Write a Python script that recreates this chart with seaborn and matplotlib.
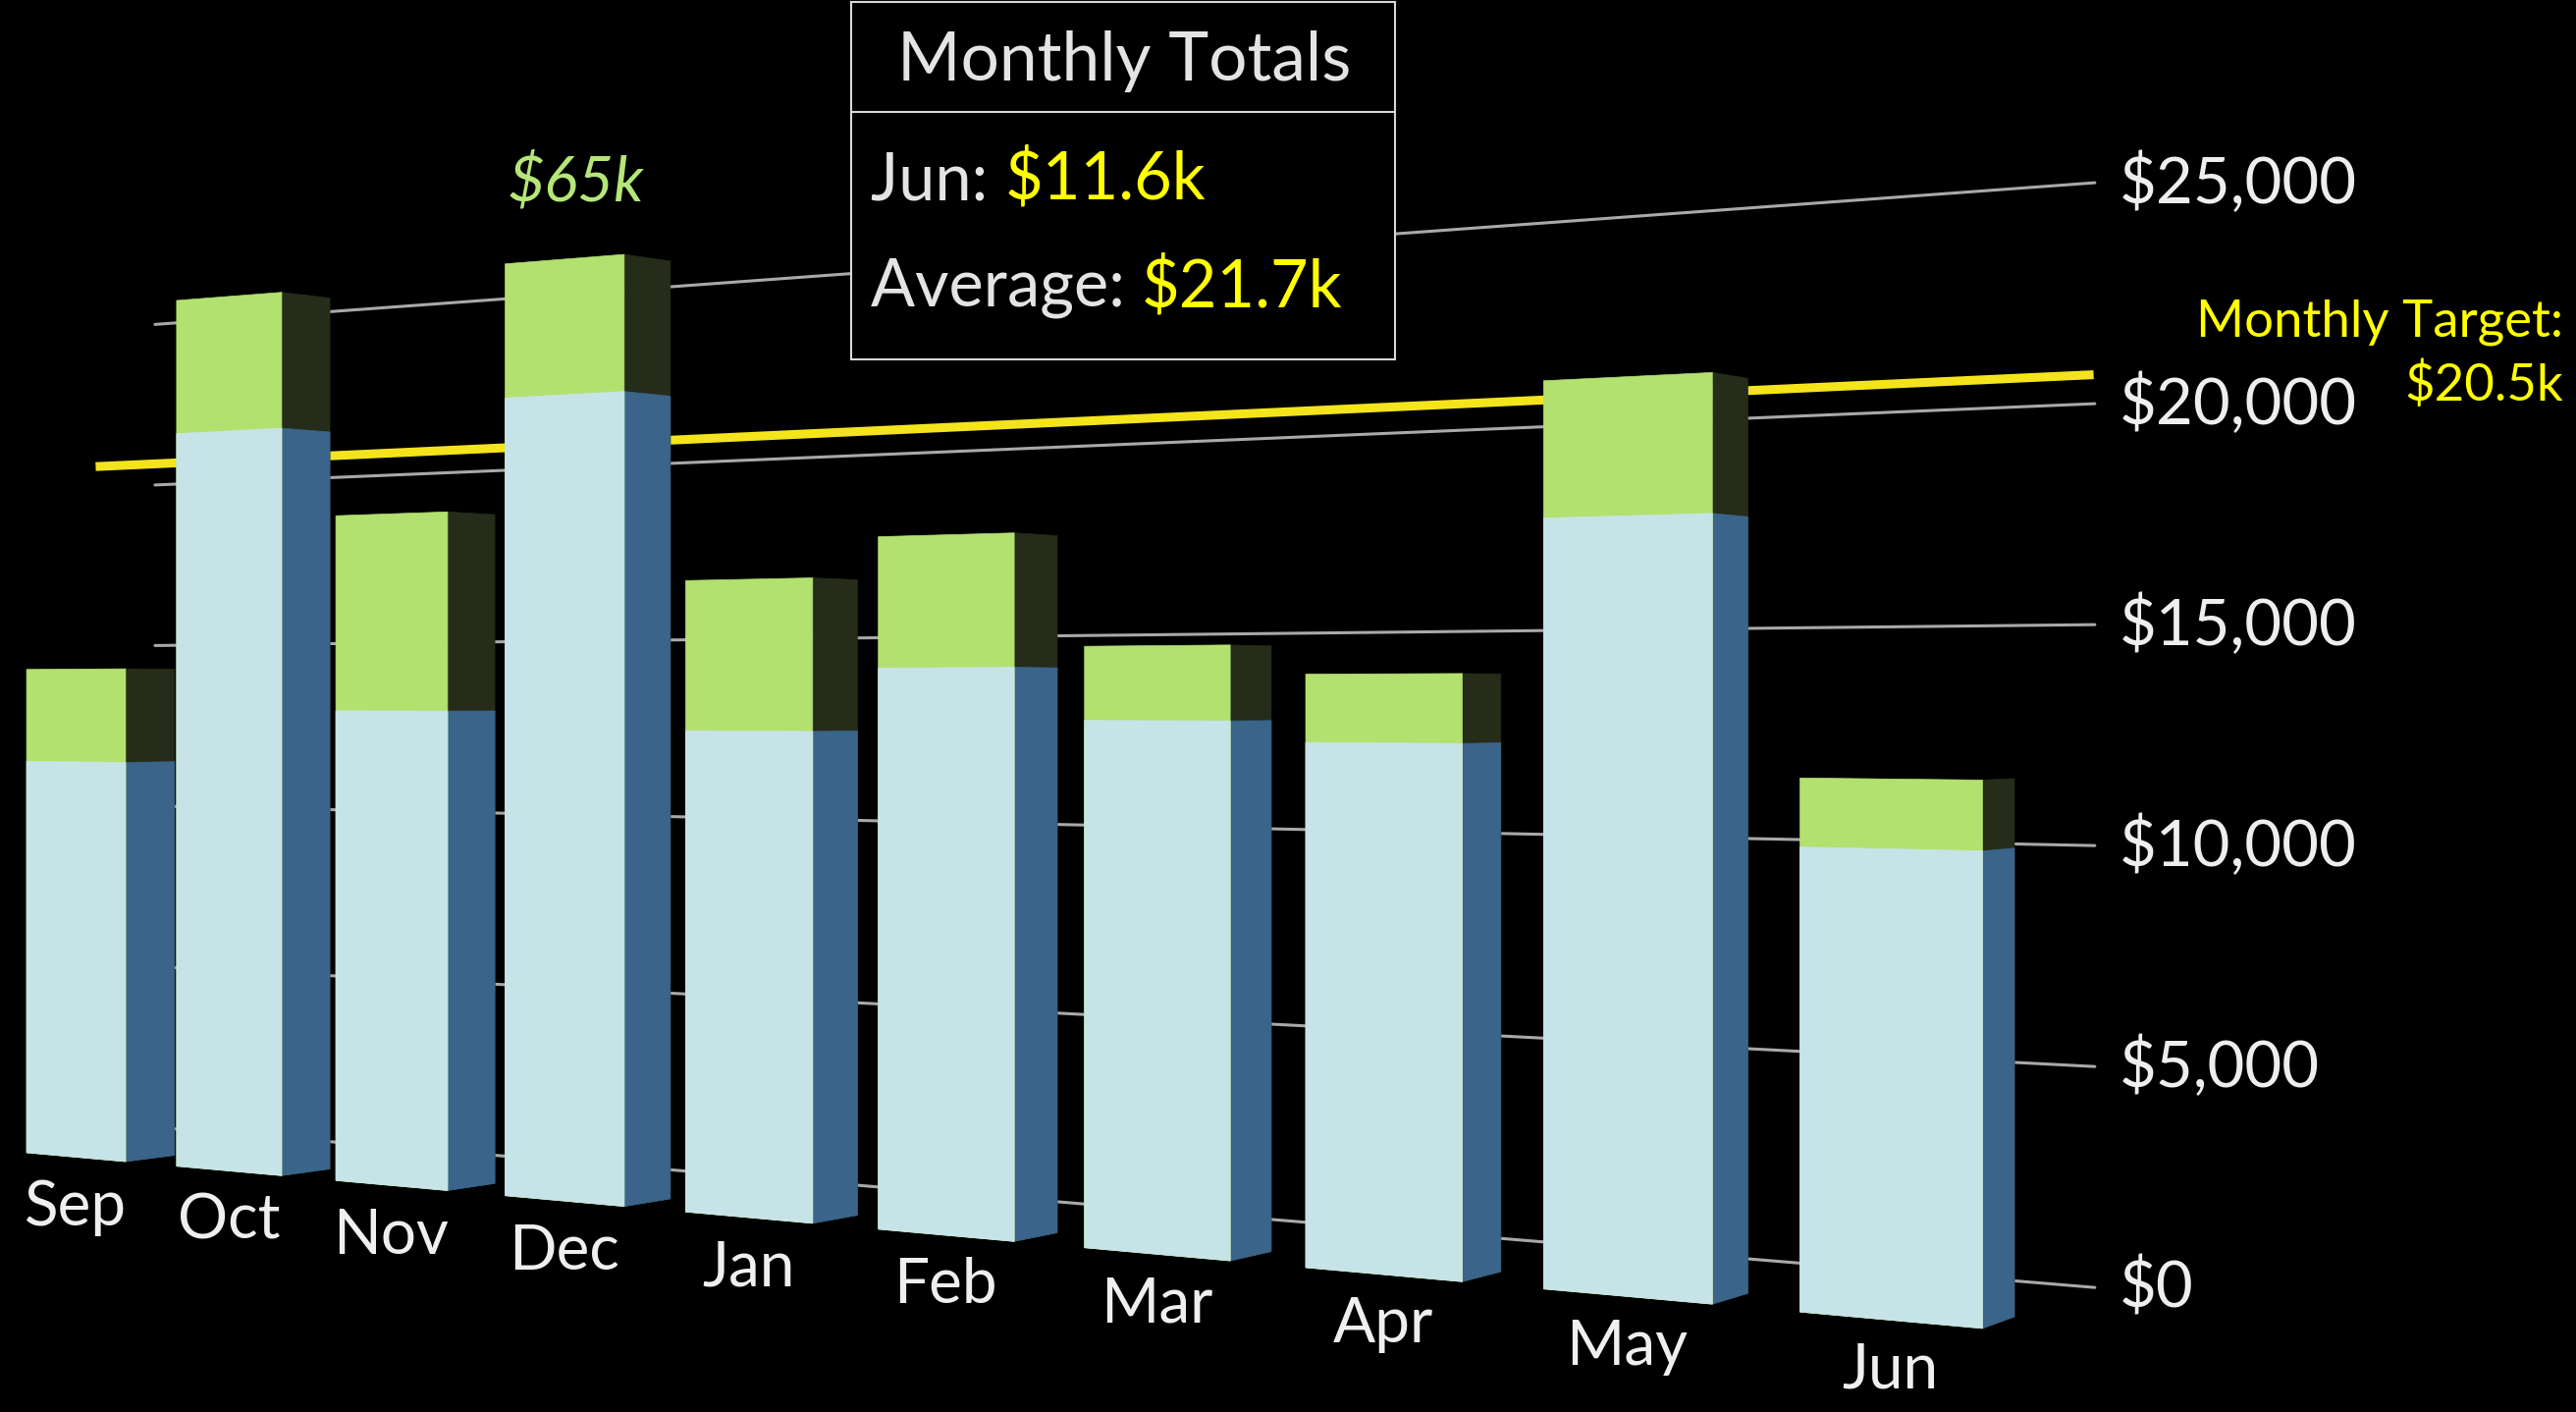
import numpy as np
import pandas as pd
import seaborn as sns
import matplotlib.pyplot as plt
from matplotlib import rcParams
from matplotlib.patches import Rectangle
from matplotlib.transforms import Transform

months = ['Sep', 'Oct', 'Nov', 'Dec', 'Jan', 'Feb', 'Mar', 'Apr', 'May', 'Jun']
base_sales = [11500, 20900, 13000, 21400, 12500, 14100, 12800, 12300, 17400, 10100]
extra_sales = [2700, 3800, 5400, 3600, 3900, 3300, 1800, 1600, 3100, 1500]
y_ticks = [0, 5000, 10000, 15000, 20000, 25000]
target = 20500
average_shown = 21700
dec_note = '$65k'

# perspective camera, matched by eye to the original 3D render (pixels, $k)
VX, HY = -5095, 714          # vanishing point x / horizon y
EYE_U, EYE_K = 14.25, 13.27  # camera position along the row / camera height in $k
B, K, C = 5.656e-6, 1.1275e-4, 0.006767
BAR_W = 2 / 3
BACK = 0.977                 # plane factor of the bars' back faces


def project(u, k, plane):
    q = B * plane * (EYE_U - u) + K
    return np.column_stack([VX + 1 / q, HY + (EYE_K - k) * C * plane / q])


class Perspective(Transform):
    """(bar position, $) -> pixel, for a plane parallel to the bar fronts."""
    input_dims = output_dims = 2

    def __init__(self, plane=1.0):
        super().__init__()
        self.plane = plane

    def transform_non_affine(self, values):
        values = np.asarray(values, dtype=float).reshape(-1, 2)
        return project(values[:, 0], values[:, 1] / 1000, self.plane)


class SideFace(Transform):
    """Folds each bar's width onto its right-hand side face (front edge -> back edge)."""
    input_dims = output_dims = 2

    def transform_non_affine(self, values):
        values = np.asarray(values, dtype=float).reshape(-1, 2)
        u = values[:, 0]
        i = np.round(u)
        frac = (u - i) / BAR_W + 0.5
        plane = 1 / (1 + frac * (1 / BACK - 1))
        return project(i + BAR_W / 2, values[:, 1] / 1000, plane)


sns.set_theme(style='white')
rcParams['font.family'] = ['Lato', 'DejaVu Sans']

df = pd.DataFrame({'month': months, 'base': base_sales})
df['total'] = df['base'] + np.array(extra_sales)

W, H = 2624, 1438
fig = plt.figure(figsize=(W / 100, H / 100), dpi=100, facecolor='black')
ax = fig.add_axes([0, 0, 1, 1])
ax.set_facecolor('black')

front = Perspective(1.0) + ax.transData
side = SideFace() + ax.transData
wall = Perspective(0.92) + ax.transData
target_plane = Perspective(0.94) + ax.transData


def bar_layer(col, color, trans, z):
    n = len(ax.patches)
    sns.barplot(data=df, x='month', y=col, color=color, width=BAR_W, saturation=1,
                errorbar=None, ax=ax, zorder=z)
    for p in ax.patches[n:]:
        p.set_transform(trans)
        p.set_edgecolor(color)
        p.set_linewidth(0.5)


# side faces, then the fronts
bar_layer('total', '#252c1a', side, 3)
bar_layer('base', '#3a6489', side, 3.1)
bar_layer('total', '#b3e170', front, 4)
bar_layer('base', '#c6e4e8', front, 4.1)

# gridlines on the back wall + value labels
u0, u1 = -2 / 3, len(months) - 2 / 3
for t in y_ticks:
    ax.plot([u0, u1], [t, t], transform=wall, color='#a9a9a9', lw=2.2, zorder=1)
    ax.annotate(f'${t:,}', xy=(u1, t), xycoords=wall, xytext=(18, 0),
                textcoords='offset points', ha='left', va='center',
                color='#eeeeee', fontsize=47)

# monthly target
ax.plot([u0 - 0.1, u1 + 0.1], [target, target], transform=target_plane,
        color='#f4e41c', lw=6.5, solid_capstyle='butt', zorder=2)
ax.text(2611, 328, 'Monthly Target:', ha='right', va='center', color='#ffff00', fontsize=38)
ax.text(2611, 392, f'${target / 1000:.1f}k', ha='right', va='center', color='#ffff00', fontsize=38)

# month labels under the bars
for i, m in enumerate(months):
    ax.annotate(m, xy=(i, 0), xycoords=front, xytext=(0, -37), textcoords='offset points',
                ha='center', va='center', color='#efefef', fontsize=46)

ax.annotate(dec_note, xy=(3, df['total'][3]), xycoords=front, xytext=(9, 57),
            textcoords='offset points', ha='center', va='center',
            color='#b5e678', fontsize=46, style='italic')

# summary box
ax.add_patch(Rectangle((867, 2), 554, 364, facecolor='black', edgecolor='#d8d8d8', lw=1.5, zorder=6))
ax.plot([867, 1421], [114, 114], color='#d8d8d8', lw=1.5, zorder=7)
ax.text(1145, 62, 'Monthly Totals', ha='center', va='center', color='#e4e4e4', fontsize=50, zorder=7)
rows = [('Jun: ', df['total'].iloc[-1], 184), ('Average: ', average_shown, 293)]
for lab, val, y in rows:
    t = ax.text(887, y, lab, ha='left', va='center', color='#e4e4e4', fontsize=48, zorder=7)
    ax.annotate(f'${val / 1000:.1f}k', xy=(1, 0), xycoords=t, ha='left', va='bottom',
                color='#ffff00', fontsize=48, zorder=7)

ax.set_xlim(0, W)
ax.set_ylim(H, 0)
ax.axis('off')

fig.savefig('out.png', facecolor='black', dpi=100)
